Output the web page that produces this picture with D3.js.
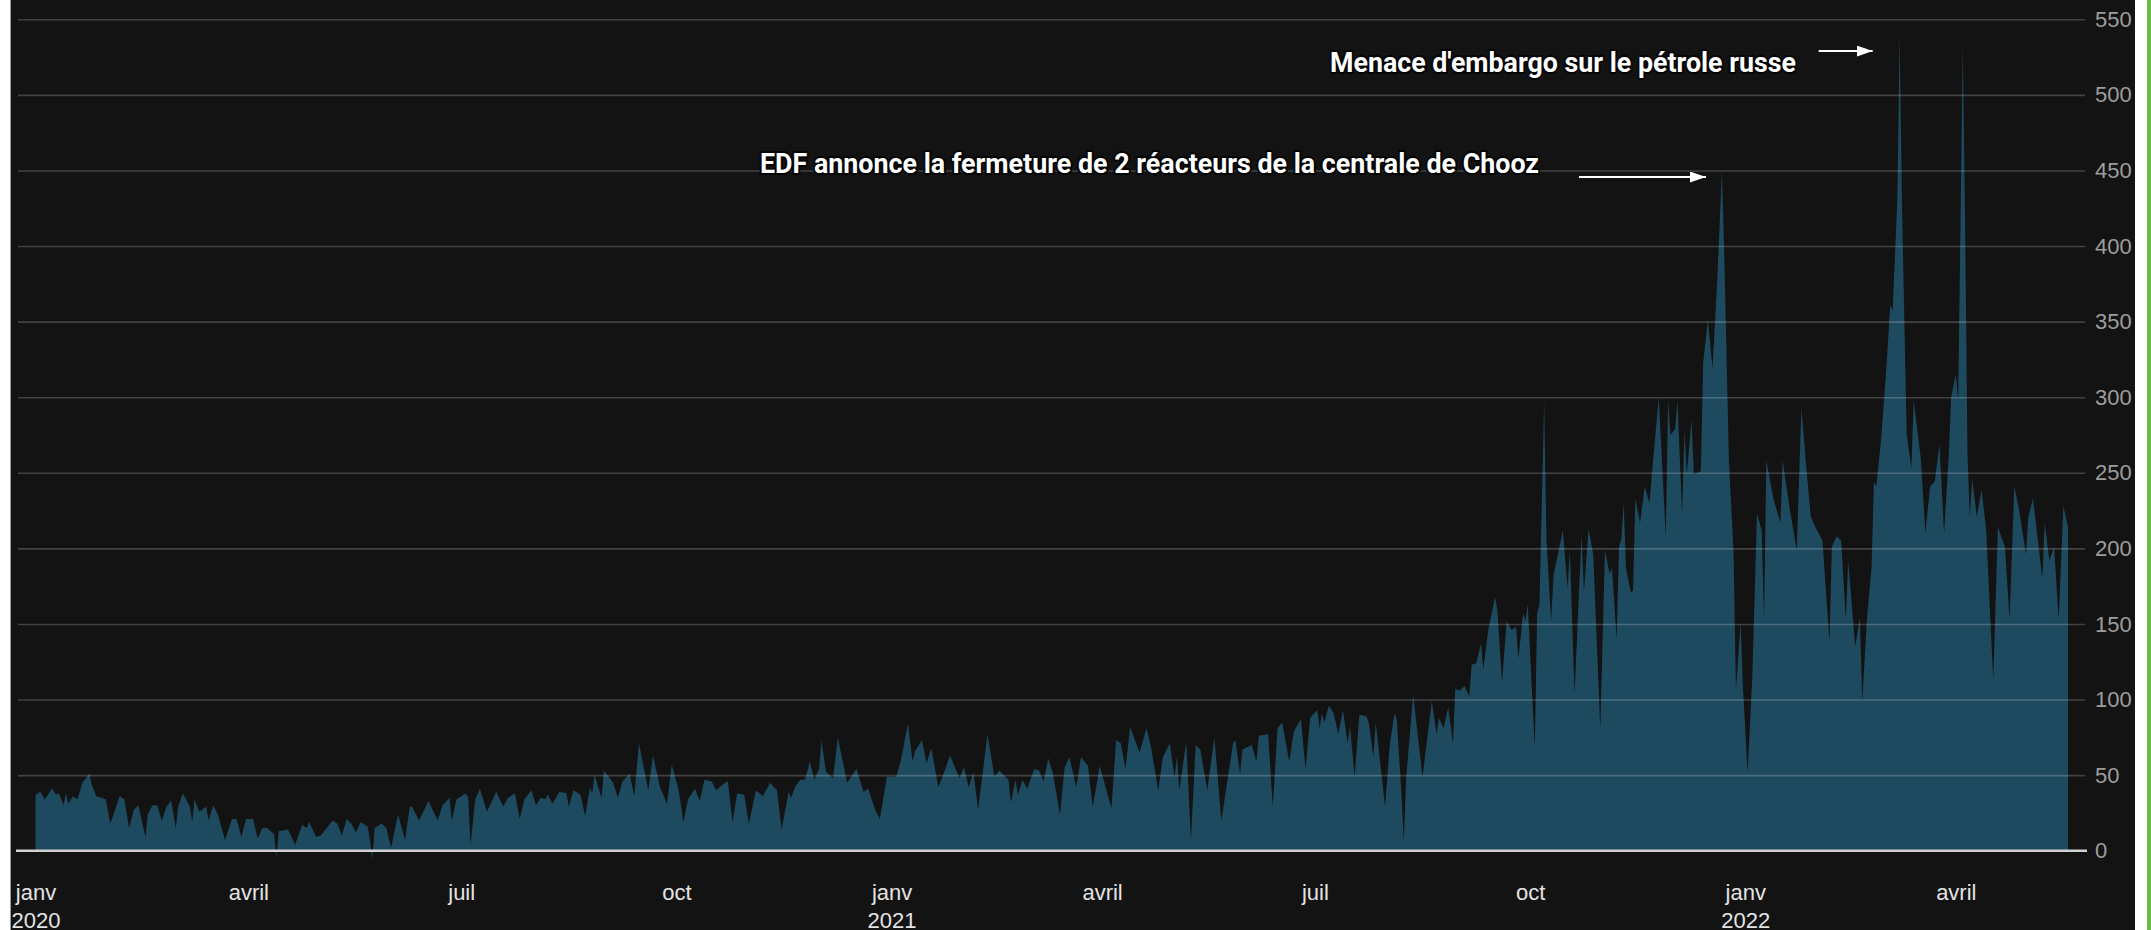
<!DOCTYPE html>
<meta charset="utf-8">
<head>
<title>Prix spot de l'électricité en France</title>
<style>
  body { margin: 0; background: #fff; }
  svg { display: block; font-family: Roboto, "Liberation Sans", sans-serif; }
  .grid line { stroke: rgba(255,255,255,0.2); stroke-width: 1.6; }
  .grid path { display: none; }
  .yaxis path, .xaxis path { display: none; }
  .yaxis text { fill: #9d9d9d; font-size: 22px; }
  .xaxis text { fill: #e4e4e4; font-size: 22px; }
  .note { fill: #fff; font-weight: 700; font-size: 27px; paint-order: stroke; stroke: #050505; stroke-width: 4px; stroke-linejoin: round; }
</style>
</head>
<svg width="2151" height="930"></svg>
<script src="https://cdn.jsdelivr.net/npm/d3@7"></script>
<script>

// day index since 1 Jan 2020 and daily price (EUR/MWh) at each visible turning point
var startDate = new Date(2020, 0, 1);
var days = [
  0, 2, 4, 7, 9, 10, 12, 13, 14, 16, 18, 20, 23, 24, 26, 28, 30, 32, 34, 36, 38, 40, 42, 44, 47, 48, 50, 52, 54, 56,
  58, 60, 61, 63, 66, 67, 68, 70, 71, 73, 74, 76, 78, 81, 84, 86, 88, 90, 93, 95, 97, 99, 102, 103, 104, 108, 111, 114, 116, 117,
  120, 122, 127, 129, 131, 133, 135, 137, 139, 142, 143, 144, 145, 148, 150, 152, 155, 158, 160, 161, 164, 168, 172, 174, 177, 178, 180, 184, 185, 186,
  188, 190, 193, 197, 200, 202, 205, 207, 209, 212, 214, 216, 218, 219, 221, 224, 227,
  228, 230, 233, 235, 237, 238, 239, 242, 243, 247, 249, 251, 254, 256, 258, 262, 264, 267, 270, 272, 275, 277, 279, 282, 284, 286, 289, 291, 294, 296,
  298, 300, 303, 305, 308, 311, 314, 317, 319, 322, 323, 325, 327, 329, 331, 333, 335, 336, 338, 341, 343, 347, 351, 354, 356, 359, 361, 364, 368, 370,
  373, 375, 376, 379, 381, 383, 386, 388, 391, 395, 397, 399, 401, 403, 407, 410, 412, 416, 417, 419, 420, 422, 424, 427, 429, 431, 433, 435, 438, 440,
  442, 445, 447, 450, 452, 455,
  460, 462, 464, 466, 468, 472, 475, 477, 480, 482, 485, 487, 488, 489, 492, 494, 496, 498, 501, 504, 507, 512, 513, 515, 516, 520, 522, 523, 527, 529,
  531, 533, 536, 538, 541, 543, 545, 548, 549, 550, 551, 553, 555, 557, 559, 561, 562, 564, 566, 569, 570, 572, 573, 577, 579, 581, 582, 584, 585, 586,
  589, 593, 597, 599, 600, 602, 604, 606, 607, 609, 611, 613, 614, 616, 618, 619, 621, 624, 625, 627, 629, 631, 633, 634, 636, 637, 638, 641, 642, 643,
  645, 646, 648, 649, 653, 655, 656, 658, 661, 662, 664, 666, 669,
  671, 673, 674, 676, 677, 678, 679, 680, 682, 683, 684, 686, 688, 690, 691, 694, 697, 698, 699, 701, 702, 704, 705, 706, 708, 709, 712, 713, 715, 717,
  719, 721, 722, 724, 726, 727, 729, 730, 732, 734, 736, 738, 739, 740, 743, 746, 747, 750, 753, 755, 757, 759, 761, 764, 767, 768, 770, 772, 774, 775,
  778, 780, 781, 783, 785, 786, 787, 789, 791, 793, 794, 796, 797, 798, 800, 802, 803, 806, 808, 810, 812, 814, 816, 818, 819, 821, 822, 823, 824, 825,
  826, 827, 828, 830, 832, 834, 837, 839, 842, 844, 846, 848, 851, 852, 854, 858, 859, 861, 863, 865, 867, 869
];
var prices = [
  37, 39, 34, 41, 37, 38, 30, 38, 31, 36, 34, 45, 51, 44, 36, 35, 34, 18, 27, 36, 34, 15, 27, 30, 9, 24, 30, 30, 20, 29,
  33, 15, 29, 38, 29, 19, 34, 26, 27, 29, 20, 30, 24, 7, 21, 21, 9, 21, 21, 8, 15, 15, 11, -4.5, 13, 14, 4, 17, 15, 19,
  9, 10, 20, 18, 10, 21, 18, 12, 19, 16, 7, -5.6, 15, 18, 15, 2, 24, 7, 29, 29, 20, 33, 20, 30, 35, 20, 34, 38, 35, 4,
  34, 41, 26, 39, 29, 35, 38, 21, 34, 40, 30, 35, 34, 37, 31, 39, 38,
  29, 40, 37, 23, 42, 38, 50, 35, 53, 45, 35, 46, 51, 36, 71, 40, 63, 42, 31, 57, 40, 19, 34, 41, 33, 47, 46, 40, 44, 46,
  19, 38, 37, 18, 40, 36, 45, 40, 14, 39, 35, 43, 47, 47, 59, 47, 54, 73, 52, 48, 75, 45, 54, 39, 41, 27, 21, 49, 49, 60,
  84, 59, 66, 73, 58, 68, 42, 50, 63, 48, 55, 42, 52, 27, 77, 49, 53, 47, 32, 47, 37, 47, 41, 54, 53, 46, 61, 51, 24, 55,
  62, 42, 62, 56, 29, 56,
  28, 73, 71, 54, 82, 65, 81, 68, 40, 62, 71, 48, 63, 40, 72, 7, 70, 67, 40, 75, 20, 71, 73, 51, 67, 70, 59, 76, 77, 29,
  81, 85, 59, 79, 87, 54, 88, 93, 81, 91, 85, 96, 91, 77, 93, 71, 82, 49, 90, 89, 85, 62, 85, 29, 70, 91, 87, 38, 6, 48,
  103, 49, 99, 77, 88, 81, 95, 71, 107, 106, 109, 102, 123, 124, 137, 120, 145, 168, 159, 112, 152, 146, 148, 127, 157, 152, 163, 68, 157, 163,
  297, 205, 152, 182, 212, 174, 198, 104, 209, 171, 213, 196, 81,
  199, 183, 187, 140, 201, 206, 230, 187, 171, 172, 233, 217, 241, 230, 248, 300, 208, 298, 275, 279, 298, 223, 278, 249, 285, 249, 251, 323, 351, 319,
  377, 450, 395, 258, 197, 106, 151, 108, 52, 115, 223, 212, 153, 258, 233, 217, 258, 226, 199, 293, 255, 221, 214, 205, 138, 201, 208, 205, 153, 192,
  135, 154, 99, 153, 188, 244, 241, 271, 312, 361, 357, 431, 540, 427, 276, 253, 298, 260, 210, 241, 244, 269, 210, 262, 300, 315, 298, 413, 533, 413,
  262, 221, 246, 221, 239, 212, 113, 214, 201, 153, 241, 226, 196, 221, 233, 180, 217, 192, 201, 153, 228, 214
];

var yTicks = [0, 50, 100, 150, 200, 250, 300, 350, 400, 450, 500, 550];
var monthTicks = ["2020-01-01", "2020-04-01", "2020-07-01", "2020-10-01",
                  "2021-01-01", "2021-04-01", "2021-07-01", "2021-10-01",
                  "2022-01-01", "2022-04-01"];
var monthNames = ["janv", "févr", "mars", "avril", "mai", "juin", "juil", "août", "sept", "oct", "nov", "déc"];

var noteLabels = ["EDF annonce la fermeture de 2 réacteurs de la centrale de Chooz",
                  "Menace d'embargo sur le pétrole russe"];
var noteDays = [721, 797];

var svg = d3.select("svg");
var W = +svg.attr("width"), H = +svg.attr("height");

var data = days.map(function(d, i) {
    return { date: d3.timeDay.offset(startDate, d), value: prices[i] };
});

var x = d3.scaleTime()
    .domain([startDate, new Date(2022, 3, 1)])
    .range([35.5, 1955.8]);
var y = d3.scaleLinear()
    .domain([0, 550])
    .range([850.7, 19.3]);

// frame
svg.append("rect").attr("x", 0).attr("y", 0).attr("width", W).attr("height", H).attr("fill", "#fff");
svg.append("rect").attr("x", 10).attr("y", 0).attr("width", 2125).attr("height", H).attr("fill", "#131313");
svg.append("line").attr("x1", 10.5).attr("x2", 10.5).attr("y1", 0).attr("y2", H)
    .attr("stroke", "#9a9a9a").attr("stroke-width", 1);
svg.append("rect").attr("x", 2147).attr("y", 0).attr("width", 4).attr("height", H).attr("fill", "#6cbd45");

// area
var area = d3.area()
    .x(function(d) { return x(d.date); })
    .y0(y(0))
    .y1(function(d) { return y(d.value); });

svg.append("path")
    .datum(data)
    .attr("fill", "#1d4a5e")
    .attr("d", area);

// gridlines over the area
svg.append("g")
    .attr("class", "grid")
    .attr("transform", "translate(2085,0)")
    .call(d3.axisLeft(y).tickValues(yTicks.filter(function(v) { return v > 0; }))
        .tickSize(2085 - 18).tickFormat(""));

svg.append("line")
    .attr("x1", 16).attr("x2", 2087)
    .attr("y1", y(0)).attr("y2", y(0))
    .attr("stroke", "#d2d2d2").attr("stroke-width", 2.5);

// y axis on the right
svg.append("g")
    .attr("class", "yaxis")
    .attr("transform", "translate(2087,0)")
    .call(d3.axisRight(y).tickValues(yTicks).tickSize(0).tickPadding(8));

// x axis
var xAxis = svg.append("g")
    .attr("class", "xaxis")
    .attr("transform", "translate(0," + y(0) + ")")
    .call(d3.axisBottom(x)
        .tickValues(monthTicks.map(function(s) { return d3.timeParse("%Y-%m-%d")(s); }))
        .tickSize(0).tickPadding(34)
        .tickFormat(function(d) { return monthNames[d.getMonth()]; }));

xAxis.selectAll(".tick text").each(function(d) {
    if (d.getMonth() === 0) {
        d3.select(this).append("tspan")
            .attr("x", 0).attr("dy", "28px")
            .text(d.getFullYear());
    }
});

// annotations
var defs = svg.append("defs");
defs.append("marker")
    .attr("id", "arrow")
    .attr("markerUnits", "userSpaceOnUse")
    .attr("markerWidth", 17).attr("markerHeight", 11)
    .attr("refX", 16).attr("refY", 5.5)
    .attr("orient", "auto")
    .append("path")
    .attr("d", "M0,0 L16,5.5 L0,11 Z")
    .attr("fill", "#fff");

// EDF / Chooz
var tip1 = x(d3.timeDay.offset(startDate, noteDays[0])) - 16;
svg.append("line")
    .attr("x1", tip1 - 127).attr("x2", tip1)
    .attr("y1", 177).attr("y2", 177)
    .attr("stroke", "#fff").attr("stroke-width", 1.8)
    .attr("marker-end", "url(#arrow)");
svg.append("text")
    .attr("class", "note")
    .attr("x", 760).attr("y", 173)
    .attr("textLength", 779).attr("lengthAdjust", "spacingAndGlyphs")
    .text(noteLabels[0]);

// embargo
var tip2 = x(d3.timeDay.offset(startDate, noteDays[1])) - 27;
svg.append("line")
    .attr("x1", tip2 - 54).attr("x2", tip2)
    .attr("y1", 51).attr("y2", 51)
    .attr("stroke", "#fff").attr("stroke-width", 1.8)
    .attr("marker-end", "url(#arrow)");
svg.append("text")
    .attr("class", "note")
    .attr("x", 1330).attr("y", 72)
    .attr("textLength", 466).attr("lengthAdjust", "spacingAndGlyphs")
    .style("font-size", "28px")
    .text(noteLabels[1]);

</script>
